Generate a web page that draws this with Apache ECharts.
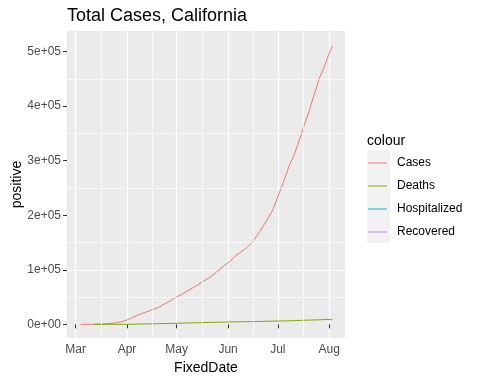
<!DOCTYPE html>
<html><head><meta charset="utf-8">
<script src="https://cdn.jsdelivr.net/npm/echarts@6/dist/echarts.min.js"></script>
<style>html,body{margin:0;padding:0;background:#fff}#c{width:480px;height:384px}</style>
</head><body><div id="c"></div>
<script>
const caseDates = ['2020-03-04','2020-03-09','2020-03-14','2020-03-19','2020-03-24','2020-03-29','2020-04-01','2020-04-04','2020-04-08','2020-04-12','2020-04-16','2020-04-20','2020-04-24','2020-04-28','2020-05-01','2020-05-05','2020-05-09','2020-05-13','2020-05-17','2020-05-21','2020-05-25','2020-05-29','2020-06-01','2020-06-05','2020-06-08','2020-06-12','2020-06-16','2020-06-20','2020-06-24','2020-06-28','2020-07-02','2020-07-05','2020-07-08','2020-07-11','2020-07-14','2020-07-17','2020-07-20','2020-07-23','2020-07-26','2020-07-29','2020-08-01','2020-08-03'];
const caseValues = [50,130,300,900,2200,5000,8000,12000,17500,22000,26500,31000,38000,45000,50500,56500,64000,71000,79000,86000,96000,106000,113000,124000,131000,140000,152000,170000,189000,210000,242000,266000,292000,312000,338000,366000,392000,422000,451000,472000,497000,510000];
const deathDates = ['2020-03-12','2020-03-20','2020-04-01','2020-04-10','2020-04-16','2020-04-25','2020-05-01','2020-05-11','2020-05-20','2020-06-01','2020-06-07','2020-06-15','2020-06-25','2020-07-07','2020-07-15','2020-07-25','2020-08-03'];
const deathValues = [4,25,180,600,900,1600,2000,2750,3500,4300,4650,5100,5700,6450,7300,8250,9300];
const seriesNames = ['Cases','Deaths','Hospitalized','Recovered'];
const seriesColors = ['#F8766D','#7CAE00','#00BFC4','#C77CFF'];
const monthTicks = ['2020-03-01','2020-04-01','2020-05-01','2020-06-01','2020-07-01','2020-08-01'];
const minorXBreaks = ['2020-03-16T12:00:00','2020-04-16T00:00:00','2020-05-16T12:00:00','2020-06-16T00:00:00','2020-07-16T12:00:00'];
const yTicks = [0,100000,200000,300000,400000,500000];
const yLabels = ['0e+00','1e+05','2e+05','3e+05','4e+05','5e+05'];
const minorYBreaks = [50000,150000,250000,350000,450000];

const t = s => new Date(s.length === 10 ? s + 'T00:00:00' : s).getTime();
const FONT = 'Liberation Sans, Arial, sans-serif';
const chart = echarts.init(document.getElementById('c'));
const seriesData = [
  caseDates.map((d, i) => [t(d), caseValues[i]]),
  deathDates.map((d, i) => [t(d), deathValues[i]]),
  [], []
];
const series = seriesNames.map((n, i) => ({
  name: n, type: 'line', data: seriesData[i], symbol: 'none', showSymbol: false,
  lineStyle: {color: seriesColors[i], width: 1}, itemStyle: {color: seriesColors[i]},
  z: 3, animation: false
}));
series.push({
  name: '_minor', type: 'line', data: [], z: 1, silent: true, animation: false,
  markLine: {silent: true, symbol: 'none', label: {show: false}, animation: false,
    lineStyle: {color: 'rgba(255,255,255,0.7)', width: 1, type: 'solid'},
    data: minorXBreaks.map(d => ({xAxis: t(d)})).concat(minorYBreaks.map(v => ({yAxis: v})))}
});
chart.setOption({
  animation: false,
  textStyle: {fontFamily: FONT},
  title: [
    {text: 'Total Cases, California', left: 62, top: 2, textStyle: {fontSize: 18, fontWeight: 'normal', color: '#000', fontFamily: FONT}},
    {text: 'colour', left: 362, top: 129, textStyle: {fontSize: 14, fontWeight: 'normal', color: '#000', fontFamily: FONT}}
  ],
  graphic: [{type: 'rect', left: 367, top: 150, shape: {width: 23, height: 93}, style: {fill: '#F2F2F2'}, z: -1}],
  legend: {
    data: seriesNames, orient: 'vertical', left: 368, top: 157, itemWidth: 19, itemHeight: 1, itemGap: 11,
    padding: 0, icon: 'rect',
    textStyle: {fontSize: 12, color: '#000', fontFamily: FONT, padding: [0, 0, 0, 5]}
  },
  grid: {left: 67, right: 135, top: 31, bottom: 46, show: true, backgroundColor: '#EBEBEB', borderWidth: 0, containLabel: false, outerBoundsMode: 'none'},
  xAxis: {
    type: 'time', min: t('2020-02-24T20:00:00'), max: t('2020-08-10T12:00:00'),
    name: 'FixedDate', nameLocation: 'middle', nameGap: 23, nameMoveOverlap: false,
    nameTextStyle: {fontSize: 14, color: '#000', fontFamily: FONT},
    axisLine: {show: false},
    axisTick: {show: true, length: 4, lineStyle: {color: '#333', width: 1}, customValues: monthTicks.map(t)},
    axisLabel: {fontSize: 12, color: '#4D4D4D', margin: 6, formatter: '{MMM}', customValues: monthTicks.map(t), hideOverlap: false},
    splitLine: {show: true, lineStyle: {color: '#fff', width: 1.2}}
  },
  yAxis: {
    type: 'value', min: -25000, max: 537500, interval: 25000,
    name: 'positive', nameLocation: 'middle', nameGap: 43, nameRotate: 90, nameMoveOverlap: false,
    nameTextStyle: {fontSize: 14, color: '#000', fontFamily: FONT},
    axisLine: {show: false},
    axisTick: {show: true, length: 4, lineStyle: {color: '#333', width: 1}, customValues: yTicks},
    axisLabel: {fontSize: 12, color: '#4D4D4D', margin: 6, customValues: yTicks,
      formatter: v => { const i = yTicks.indexOf(v); return i >= 0 ? yLabels[i] : ''; }},
    splitLine: {show: true, showMaxLine: false, lineStyle: {color: ['rgba(0,0,0,0)', '#FFFFFF', 'rgba(0,0,0,0)', 'rgba(0,0,0,0)'], width: 1.2}}
  },
  series: series
});
</script></body></html>
